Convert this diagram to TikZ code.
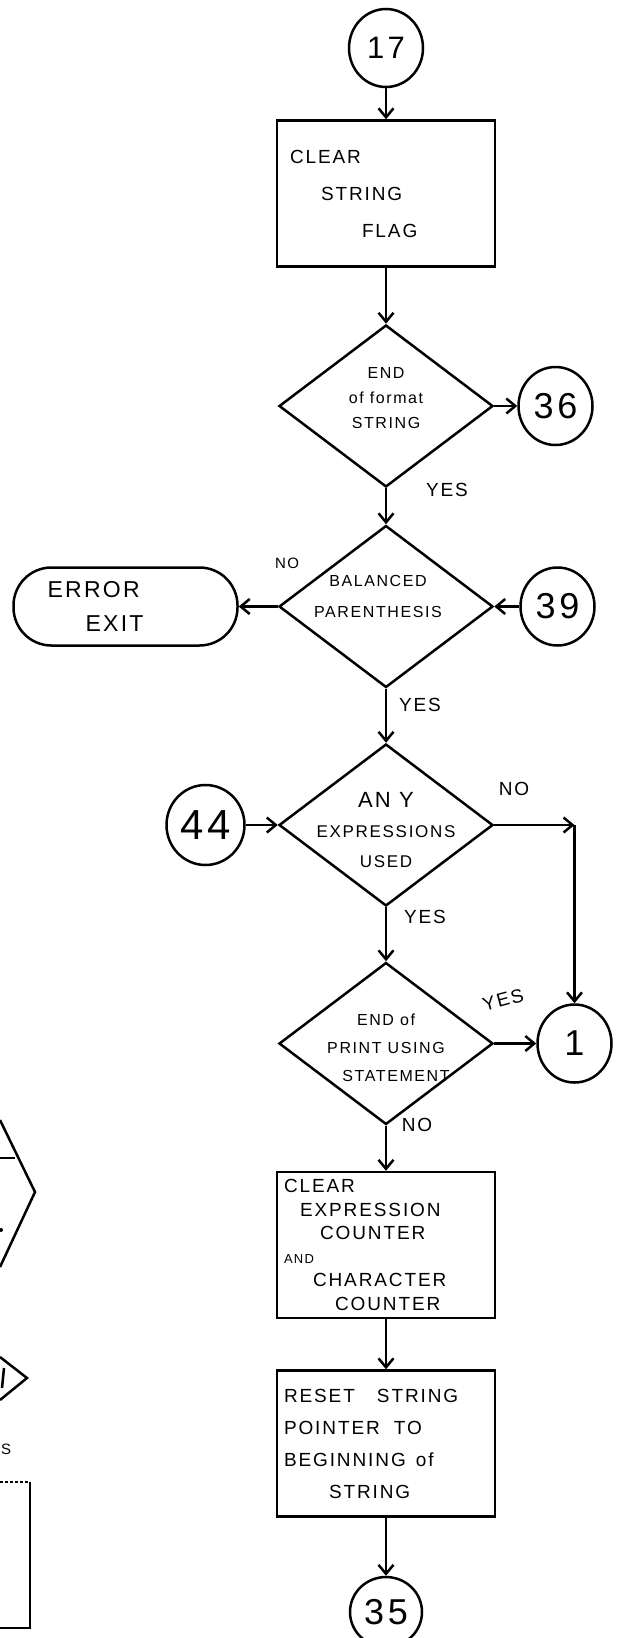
\documentclass[tikz,border=0pt]{standalone}
\usepackage{fontspec}
\newfontfamily\hand[LetterSpace=10]{Liberation Sans}
\usetikzlibrary{arrows.meta,positioning,shapes.geometric}

\tikzset{
  conn/.style={draw, ellipse, minimum width=74pt, minimum height=78pt, inner sep=0pt, font=\hand\fontsize{36}{38}\selectfont},
  procbox/.style={draw, rectangle, minimum width=218pt, minimum height=146pt, text width=204pt, inner sep=7pt, align=left},
  decide/.style={draw, diamond, minimum width=214pt, minimum height=162pt, inner sep=0pt},
  dtext/.style={align=center, inner sep=0pt},
  term/.style={draw, rectangle, rounded corners=38pt, minimum width=224pt, minimum height=78pt, text width=200pt, inner sep=0pt, align=left, font=\hand\fontsize{23}{34}\selectfont},
  lbl/.style={inner sep=0pt, font=\hand\fontsize{19}{20}\selectfont},
}

\begin{document}
\begin{tikzpicture}[x=1pt, y=-1pt, line width=2.5pt, >={Straight Barb[length=9pt,width=15pt]}]
\useasboundingbox (0,0) rectangle (621,1638);
% main column
\node[conn, font=\hand\fontsize{31}{32}\selectfont] (c17) at (386,48) {17};
\node[procbox, below=31pt of c17, font=\hand\fontsize{19}{37}\selectfont] (clrflag) {\hspace*{6pt}CLEAR\\\hspace*{37pt}STRING\\\hspace*{78pt}FLAG};
\node[decide, below=56pt of clrflag] (endfmt) {};
\node[dtext, font=\hand\fontsize{16}{25}\selectfont] (endfmtt) at ([yshift=8pt]endfmt.center) {END\\of format\\STRING};
\node[decide, below=36pt of endfmt] (balpar) {};
\node[dtext, font=\hand\fontsize{16}{31}\selectfont] (balpart) at ([xshift=-8pt,yshift=10pt]balpar.center) {BALANCED\\PARENTHESIS};
\node[decide, below=54pt of balpar] (anyexpr) {};
\node[dtext, font=\hand\fontsize{17}{30}\selectfont] (anyexprt) at ([yshift=-5pt]anyexpr.center) {{\fontsize{22}{30}\selectfont AN Y}\\EXPRESSIONS\\USED};
\node[decide, below=54pt of anyexpr] (endpu) {};
\node[dtext, font=\hand\fontsize{16}{28}\selectfont] (endput) at ([yshift=-4pt]endpu.center) {END of\\PRINT USING\\\hspace*{20pt}STATEMENT};
\node[procbox, below=45pt of endpu, font=\hand\fontsize{19}{23.5}\selectfont] (clrcnt) {CLEAR\\\hspace*{16pt}EXPRESSION\\\hspace*{36pt}COUNTER\\{\fontsize{13}{20}\selectfont AND}\\\hspace*{29pt}CHARACTER\\\hspace*{51pt}COUNTER};
\node[procbox, below=50pt of clrcnt, font=\hand\fontsize{19}{32}\selectfont] (rstptr) {RESET\hspace{22pt}STRING\\POINTER\hspace{14pt}TO\\BEGINNING\hspace{10pt}of\\\hspace*{45pt}STRING};
\node[conn, below=58pt of rstptr, minimum width=72pt, minimum height=70pt] (c35) {35};
% side nodes
\node[conn, right=23pt of endfmt] (c36) {36};
\node[conn, right=25pt of balpar] (c39) {39};
\node[term, left=39pt of balpar] (errexit) {\hspace*{22pt}ERROR\\\hspace*{60pt}EXIT};
\node[conn, left=32pt of anyexpr, minimum width=78pt, minimum height=80pt, font=\hand\fontsize{42}{44}\selectfont] (c44) {44};
\node[conn, right=42pt of endpu] (c1) {1};
\coordinate (turn) at (c1 |- anyexpr);
% labels
\node[lbl] (yes1) at (447,490) {YES};
\node[lbl, font=\hand\fontsize{15}{16}\selectfont] (no2) at (287,563) {NO};
\node[lbl] (yes2) at (420,705) {YES};
\node[lbl] (no3) at (514,789) {NO};
\node[lbl] (yes3) at (425,917) {YES};
\node[lbl, rotate=15] (yes4) at (503,1000) {YES};
\node[lbl] (no4) at (417,1125) {NO};
% connectors
\draw[->] (c17) -- (clrflag);
\draw[->] (clrflag) -- (endfmt);
\draw[->] (endfmt) -- (c36);
\draw[->] (endfmt) -- (balpar);
\draw[->] (balpar) -- (errexit);
\draw[->] (c39) -- (balpar);
\draw[->] (balpar) -- (anyexpr);
\draw[->] (c44) -- (anyexpr);
\draw[->] (anyexpr) -- (turn);
\draw[->] (turn) -- (c1);
\draw[->] (anyexpr) -- (endpu);
\draw[->] (endpu) -- (c1);
\draw[->] (endpu) -- (clrcnt);
\draw[->] (clrcnt) -- (rstptr);
\draw[->] (rstptr) -- (c35);
% remnants at the left edge
\draw (0,1120) -- (35,1192) -- (0,1267);
\draw (0,1158) -- (15,1158);
\fill (1,1230) circle (2pt);
\draw (0,1357) -- (27,1378) -- (0,1400);
\draw (4,1368) -- (2,1388);
\node[lbl, anchor=west, font=\hand\fontsize{15}{16}\selectfont] (sfrag) at (0,1449) {S};
\draw[densely dashed, line width=1.5pt] (0,1482) -- (30,1482);
\draw (30,1482) -- (30,1628) -- (0,1628);
\end{tikzpicture}
\end{document}
